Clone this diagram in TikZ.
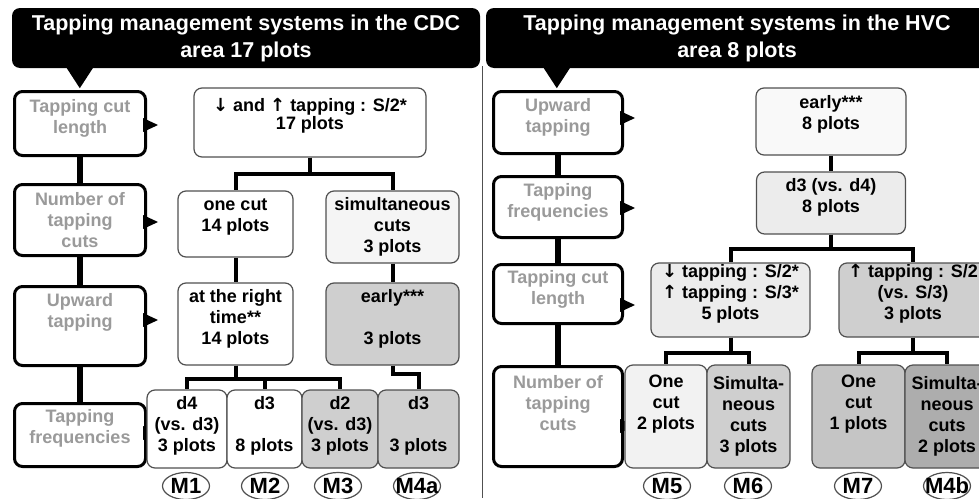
\documentclass[tikz,border=0pt]{standalone}
\usepackage{fontspec}
\setmainfont{Liberation Sans}
\newfontfamily\arrowfont{DejaVu Sans}
\usetikzlibrary{shapes.geometric}
\newcommand{\lift}[1]{\rule[-#1pt]{0pt}{0pt}}
\newcommand{\mname}[1]{\makebox[0pt]{#1}}
\newcommand{\dnarr}{{\arrowfont ↓}}
\newcommand{\uparr}{{\arrowfont ↑}}
\definecolor{catgray}{HTML}{9A9A9A}
\definecolor{pale}{HTML}{F5F5F5}
\definecolor{light}{HTML}{ECECEC}
\definecolor{mid}{HTML}{CFCFCF}
\definecolor{dark}{HTML}{ADADAD}
\definecolor{edge}{HTML}{505050}
\tikzset{
  banner/.style={rectangle, rounded corners=8pt, fill=black, text=white,
    font=\fontsize{21.5}{27}\selectfont\bfseries, align=center, inner sep=0pt},
  cat/.style={rectangle, rounded corners=8pt, draw=black, line width=3pt, fill=white,
    text=catgray, font=\fontsize{18}{21}\selectfont\bfseries, align=center,
    inner sep=0pt},
  cbox/.style={rectangle, rounded corners=8pt, draw=edge, line width=1.2pt,
    font=\fontsize{18}{21}\selectfont\bfseries, align=center, inner sep=0pt},
  mlabel/.style={ellipse, draw=edge, line width=1.2pt, fill=white, inner sep=0pt,
    minimum width=47pt, minimum height=27pt, font=\fontsize{22}{24}\selectfont\bfseries},
  spine/.style={line width=6pt},
  branch/.style={line width=4pt},
}
\begin{document}
\begin{tikzpicture}[x=1pt, y=-1pt]
      \useasboundingbox (0,0) rectangle (979,498);
      \clip (0,0) rectangle (979,498);

      \node [banner, minimum width=468pt, minimum height=60pt] (titleL) at (246,38)
        {Tapping management systems in the CDC\\area 17 plots};
      \fill (titleL.south west) ++(55,0) -- ++(26,0) -- ++(-13,20) -- cycle;
      \node [banner, minimum width=502pt, minimum height=60pt] (titleR) at (737,38)
        {Tapping management systems in the HVC\\area 8 plots};
      \fill (titleR.south west) ++(58,0) -- ++(26,0) -- ++(-13,20) -- cycle;
      \draw [edge, line width=1.5pt] (482.5,66) -- (482.5,498);

      \node [cat, minimum width=131pt, minimum height=64pt] (lcut)  at (80,123.5) {Tapping cut\\length\lift{14}};
      \node [cat, minimum width=131pt, minimum height=71pt] (lnum)  at (80,220)   {Number of\\tapping\\cuts};
      \node [cat, minimum width=131pt, minimum height=79pt] (lup)   at (80,326)   {Upward\\tapping\lift{32}};
      \node [cat, minimum width=131pt, minimum height=63pt] (lfreq) at (80,435)   {Tapping\\frequencies\lift{18}};
      \draw [spine] (lcut.south) to (lnum.north);
      \draw [spine] (lnum.south) to (lup.north);
      \draw [spine] (lup.south) to (lfreq.north);

      \node [cat, minimum width=129pt, minimum height=62pt]  (rup)   at (558,122.5) {Upward\\tapping\lift{14}};
      \node [cat, minimum width=129pt, minimum height=61pt]  (rfreq) at (558,207)   {Tapping\\frequencies\lift{14}};
      \node [cat, minimum width=129pt, minimum height=59pt]  (rcut)  at (558,294)   {Tapping cut\\length\lift{14}};
      \node [cat, minimum width=129pt, minimum height=100pt] (rnum)  at (558,416.5) {Number of\\tapping\\cuts\lift{28}};
      \draw [spine] (rup.south) to (rfreq.north);
      \draw [spine] (rfreq.south) to (rcut.north);
      \draw [spine] (rcut.south) to (rnum.north);

      \foreach \n/\y in {lcut/125, lnum/222, lup/320, lfreq/433, rup/118, rfreq/208, rcut/305, rnum/426}
        \fill (\n.east |- 0,\y) ++(-4,-7) -- ++(0,14) -- ++(15,-7) -- cycle;

      \node [cbox, fill=white, minimum width=232pt, minimum height=69pt] (cdc0) at (310,122.5)
        {\dnarr{} and \uparr{} tapping : S/2*\\[-3pt]17 plots\lift{17}};
      \node [cbox, fill=white, minimum width=115pt, minimum height=66pt] (cdc1) at (235.5,224)
        {one cut\\14 plots\lift{18}};
      \node [cbox, fill=pale, minimum width=133pt, minimum height=72pt]  (cdc2) at (392.5,227)
        {simultaneous\\cuts\\3 plots};
      \node [cbox, fill=white, minimum width=115pt, minimum height=82pt] (cdc3) at (235.5,324)
        {at the right\\time**\\14 plots\lift{14}};
      \node [cbox, fill=mid, minimum width=133pt, minimum height=82pt]   (cdc4) at (392.5,324)
        {early***\\[21pt]3 plots\lift{14}};
      \draw [branch] (cdc0.south) -- ++(0,16) -| (cdc1.north);
      \draw [branch] (cdc0.south) -- ++(0,16) -| (cdc2.north);
      \draw [branch] (cdc1) to (cdc3);
      \draw [branch] (cdc2) to (cdc4);

      \node [cbox, fill=white, minimum width=80pt, minimum height=78pt] (m1)  at (187,429)   {d4\\(vs. d3)\\3 plots\lift{10}};
      \node [cbox, fill=white, minimum width=75pt, minimum height=78pt] (m2)  at (264.5,429) {d3\\[21pt]8 plots\lift{10}};
      \node [cbox, fill=mid, minimum width=76pt, minimum height=78pt]   (m3)  at (340,429)   {d2\\(vs. d3)\\3 plots\lift{10}};
      \node [cbox, fill=mid, minimum width=81pt, minimum height=78pt]   (m4a) at (418.5,429) {d3\\[21pt]3 plots\lift{10}};
      \draw [branch] (cdc3.south) -- ++(0,13) -| (m1.north);
      \draw [branch] (cdc3.south) -- ++(0,13) -| (m2.north);
      \draw [branch] (cdc3.south) -- ++(0,13) -| (m3.north);
      \draw [branch] (cdc4.south) -- ++(0,8) -| (m4a.north);

      \node [cbox, fill=pale!60!white, minimum width=150pt, minimum height=67pt] (hvc0) at (831,121.5)
        {early***\\8 plots\lift{19}};
      \node [cbox, fill=light, minimum width=149pt, minimum height=62pt] (hvc1) at (831,203)
        {d3 (vs. d4)\\8 plots\lift{15}};
      \node [cbox, fill=light, minimum width=159pt, minimum height=74pt] (hvc2) at (730.5,300)
        {\dnarr{} tapping : S/2*\\\uparr{} tapping : S/3*\\5 plots\lift{16}};
      \node [cbox, fill=mid, minimum width=148pt, minimum height=74pt]   (hvc3) at (913,300)
        {\uparr{} tapping : S/2\\(vs. S/3)\\3 plots\lift{16}};
      \draw [branch] (hvc0) to (hvc1);
      \draw [branch] (hvc1.south) -- ++(0,14) -| (hvc2.north);
      \draw [branch] (hvc1.south) -- ++(0,14) -| (hvc3.north);

      \node [cbox, fill=light!70!white, minimum width=82pt, minimum height=103pt] (m5)  at (666,416.5)   {One\\cut\\2 plots\lift{28}};
      \node [cbox, fill=mid, minimum width=83pt, minimum height=103pt]   (m6)  at (748.5,416.5) {Simulta-\\neous\\cuts\\3 plots};
      \node [cbox, fill=mid!95!black, minimum width=93pt, minimum height=103pt] (m7)  at (858.5,416.5) {One\\cut\\1 plots\lift{28}};
      \node [cbox, fill=dark, minimum width=84pt, minimum height=103pt]  (m4b) at (947,416.5)   {Simulta-\\neous\\cuts\\2 plots};
      \draw [branch] (hvc2.south) -- ++(0,15) -| (m5.north);
      \draw [branch] (hvc2.south) -- ++(0,15) -| (m6.north);
      \draw [branch] (hvc3.south) -- ++(0,15) -| (m7.north);
      \draw [branch] (hvc3.south) -- ++(0,15) -| (m4b.north);

      \node [mlabel] (l1)  at (186,486) {\mname{M1}};
      \node [mlabel] (l2)  at (265,486) {\mname{M2}};
      \node [mlabel] (l3)  at (338,486) {\mname{M3}};
      \node [mlabel] (l4a) at (417,486) {\mname{M4a}};
      \node [mlabel] (l5)  at (667,486) {\mname{M5}};
      \node [mlabel] (l6)  at (748,486) {\mname{M6}};
      \node [mlabel] (l7)  at (858,486) {\mname{M7}};
      \node [mlabel] (l4b) at (947,486) {\mname{M4b}};
    \end{tikzpicture}
\end{document}
